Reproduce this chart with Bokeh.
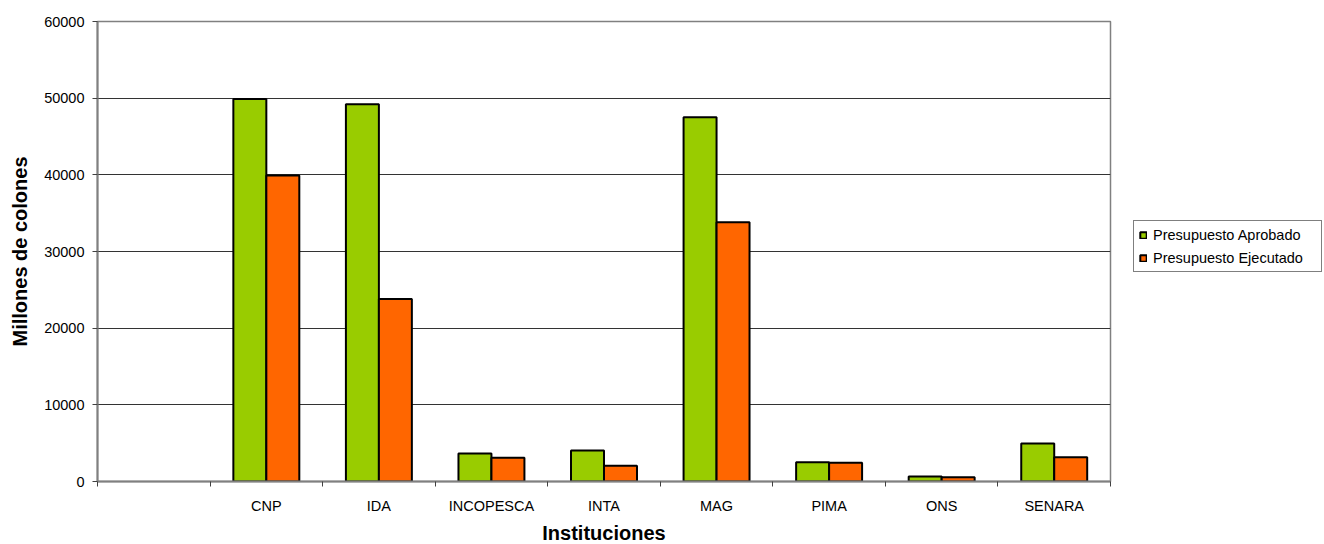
from bokeh.plotting import figure
from bokeh.models import ColumnDataSource, FixedTicker, Legend, LegendItem, Range1d
from bokeh.embed import file_html
from bokeh.resources import INLINE

categories = ["", "CNP", "IDA", "INCOPESCA", "INTA", "MAG", "PIMA", "ONS", "SENARA"]
aprobado = [0, 49900, 49200, 3650, 4050, 47500, 2500, 650, 4950]
ejecutado = [0, 39900, 23800, 3100, 2050, 33800, 2450, 550, 3150]
y_ticks = [0, 10000, 20000, 30000, 40000, 50000, 60000]

n = len(categories)
centers = [i + 0.5 for i in range(n)]
bw = 0.293

src = ColumnDataSource(dict(
    xa=[c - bw / 2 for c in centers][1:],
    xe=[c + bw / 2 for c in centers][1:],
    a=aprobado[1:],
    e=ejecutado[1:],
))

p = figure(width=1320, height=536, output_backend="svg", toolbar_location=None,
           x_range=Range1d(0, n), y_range=Range1d(0, 60000),
           min_border_left=97, min_border_right=210, min_border_top=21, min_border_bottom=55,
           frame_width=1013, frame_height=460)

p.outline_line_color = "#808080"
p.outline_line_width = 1.5
p.background_fill_color = "white"
p.border_fill_color = "white"

ra = p.vbar(x="xa", top="a", width=bw, source=src, fill_color="#99CC00",
            line_color="black", line_width=2)
re = p.vbar(x="xe", top="e", width=bw, source=src, fill_color="#FF6600",
            line_color="black", line_width=2)

# x axis
p.xaxis.ticker = FixedTicker(ticks=centers, minor_ticks=list(range(n + 1)))
p.xaxis.major_label_overrides = {c: lab for c, lab in zip(centers, categories)}
p.xaxis.major_tick_line_color = None
p.xaxis.minor_tick_line_color = "#404040"
p.xaxis.minor_tick_out = 5
p.xaxis.minor_tick_in = 0
p.xaxis.axis_line_color = "#808080"
p.xaxis.axis_line_width = 2
p.xaxis.major_label_text_font = "Liberation Sans"
p.xaxis.major_label_text_font_size = "14.5px"
p.xaxis.major_label_text_color = "black"
p.xaxis.major_label_standoff = 10
p.xaxis.axis_label = "Instituciones"
p.xaxis.axis_label_text_font = "Liberation Sans"
p.xaxis.axis_label_text_font_style = "bold"
p.xaxis.axis_label_text_font_size = "20px"
p.xaxis.axis_label_text_color = "black"
p.xaxis.axis_label_standoff = 5

# y axis
p.yaxis.ticker = FixedTicker(ticks=y_ticks)
p.yaxis.minor_tick_line_color = None
p.yaxis.major_tick_line_color = "#404040"
p.yaxis.major_tick_out = 5
p.yaxis.major_tick_in = 0
p.yaxis.axis_line_color = "#808080"
p.yaxis.axis_line_width = 2
p.yaxis.major_label_text_font = "Liberation Sans"
p.yaxis.major_label_text_font_size = "14.5px"
p.yaxis.major_label_text_color = "black"
p.yaxis.major_label_standoff = 8
p.yaxis.axis_label = "Millones de colones"
p.yaxis.axis_label_text_font = "Liberation Sans"
p.yaxis.axis_label_text_font_style = "bold"
p.yaxis.axis_label_text_font_size = "20px"
p.yaxis.axis_label_text_color = "black"
p.yaxis.axis_label_standoff = 10

p.xgrid.grid_line_color = None
p.ygrid.ticker = FixedTicker(ticks=y_ticks)
p.ygrid.grid_line_color = "#333333"
p.ygrid.grid_line_width = 1

legend = Legend(items=[LegendItem(label="Presupuesto Aprobado", renderers=[ra]),
                       LegendItem(label="Presupuesto Ejecutado", renderers=[re])],
                location=(23, 209))
legend.border_line_color = "black"
legend.border_line_width = 1
legend.label_text_font = "Liberation Sans"
legend.label_text_font_size = "14.5px"
legend.label_text_color = "black"
legend.glyph_width = 8
legend.glyph_height = 8
legend.spacing = 6
legend.padding = 5
legend.margin = 0
legend.label_standoff = 6
legend.label_height = 17
legend.label_width = 163
p.add_layout(legend, "right")

open("out.html", "w").write(file_html(p, INLINE))
